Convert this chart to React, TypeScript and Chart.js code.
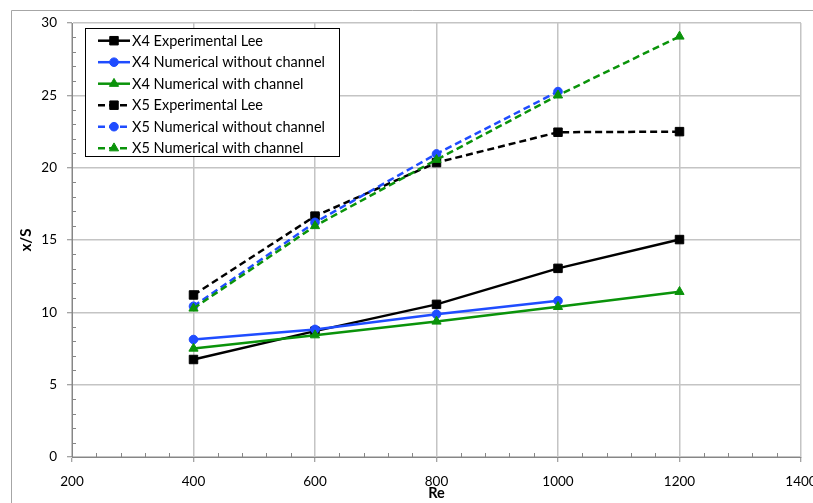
import React, { useEffect, useRef } from 'react';
import { Chart, registerables } from 'chart.js';

Chart.register(...registerables);

// Reynolds numbers (x axis)
const reValues = [400, 600, 800, 1000, 1200];

// Series values x/S
const x4ExperimentalLee = [6.74, 8.7, 10.55, 13.04, 15.03];
const x4NumericalWithout = [8.12, 8.82, 9.87, 10.8];
const x4NumericalWith = [7.5, 8.42, 9.37, 10.38, 11.42];
const x5ExperimentalLee = [11.2, 16.65, 20.35, 22.45, 22.49];
const x5NumericalWithout = [10.42, 16.22, 20.95, 25.26];
const x5NumericalWith = [10.27, 15.97, 20.55, 25.0, 29.07];

const seriesLabels = [
  'X4 Experimental Lee',
  'X4 Numerical without channel',
  'X4 Numerical with channel',
  'X5 Experimental Lee',
  'X5 Numerical without channel',
  'X5 Numerical with channel',
];

const xTickValues = [200, 400, 600, 800, 1000, 1200, 1400];
const yTickValues = [0, 5, 10, 15, 20, 25, 30];

const FONT = 'Lato, "Open Sans", sans-serif';
const BLACK = '#000000';
const BLUE = '#1f4cff';
const GREEN = '#0a930a';

function drawMarker(ctx: CanvasRenderingContext2D, style: string, x: number, y: number, r: number, color: string) {
  ctx.save();
  ctx.fillStyle = color;
  ctx.strokeStyle = color;
  ctx.lineWidth = 1;
  ctx.setLineDash([]);
  ctx.beginPath();
  if (style === 'rect') {
    const s = Math.SQRT1_2 * r;
    ctx.rect(x - s, y - s, 2 * s, 2 * s);
  } else if (style === 'circle') {
    ctx.arc(x, y, r, 0, Math.PI * 2);
  } else {
    ctx.moveTo(x, y - r);
    ctx.lineTo(x + Math.sin((2 * Math.PI) / 3) * r, y - Math.cos((2 * Math.PI) / 3) * r);
    ctx.lineTo(x + Math.sin((4 * Math.PI) / 3) * r, y - Math.cos((4 * Math.PI) / 3) * r);
    ctx.closePath();
  }
  ctx.fill();
  ctx.stroke();
  ctx.restore();
}

export default function App() {
  const ref = useRef<HTMLCanvasElement>(null);

  useEffect(() => {
    if (!ref.current) return;

    const mk = (label: string, ys: number[], color: string, style: string, radius: number, dashed: boolean, order: number) => ({
      label,
      data: ys.map((y, i) => ({ x: reValues[i], y })),
      borderColor: color,
      backgroundColor: color,
      borderWidth: 2.5,
      borderDash: dashed ? [7, 4] : [],
      pointStyle: style,
      pointRadius: radius,
      pointBorderWidth: 1,
      pointBackgroundColor: color,
      pointBorderColor: color,
      tension: 0,
      fill: false,
      order,
    });

    const datasets = [
      mk(seriesLabels[0], x4ExperimentalLee, BLACK, 'rect', 6, false, 6),
      mk(seriesLabels[1], x4NumericalWithout, BLUE, 'circle', 4.3, false, 5),
      mk(seriesLabels[2], x4NumericalWith, GREEN, 'triangle', 5.3, false, 4),
      mk(seriesLabels[3], x5ExperimentalLee, BLACK, 'rect', 6, true, 3),
      mk(seriesLabels[4], x5NumericalWithout, BLUE, 'circle', 4.3, true, 2),
      mk(seriesLabels[5], x5NumericalWith, GREEN, 'triangle', 5.3, true, 1),
    ];

    const framePlugin = {
      id: 'frame',
      beforeDraw(chart: any) {
        const ctx = chart.ctx;
        ctx.save();
        ctx.fillStyle = '#ffffff';
        ctx.fillRect(0, 0, chart.width, chart.height);
        ctx.strokeStyle = '#a6a6a6';
        ctx.lineWidth = 1;
        ctx.beginPath();
        ctx.moveTo(11.5, chart.height + 5);
        ctx.lineTo(11.5, 10.5);
        ctx.lineTo(chart.width + 5, 10.5);
        ctx.stroke();
        ctx.restore();
      },
      afterDraw(chart: any) {
        const ctx = chart.ctx;
        const xs = chart.scales.x;
        const ys = chart.scales.y;
        const area = chart.chartArea;
        ctx.save();
        ctx.strokeStyle = '#868686';
        ctx.lineWidth = 1;
        ctx.beginPath();
        for (let v = 240; v < 1400; v += 40) {
          if (v % 200 === 0) continue;
          const px = Math.round(xs.getPixelForValue(v)) + 0.5;
          ctx.moveTo(px, area.bottom);
          ctx.lineTo(px, area.bottom - 4);
        }
        for (let v = 1; v < 30; v += 1) {
          if (v % 5 === 0) continue;
          const py = Math.round(ys.getPixelForValue(v)) + 0.5;
          ctx.moveTo(area.left, py);
          ctx.lineTo(area.left + 4, py);
        }
        ctx.stroke();
        ctx.restore();
      },
      afterDatasetsDraw(chart: any) {
        const ctx = chart.ctx;
        const x0 = 85.5, y0 = 28.5, w = 254, h = 128;
        ctx.save();
        ctx.fillStyle = '#ffffff';
        ctx.fillRect(x0, y0, w, h);
        ctx.strokeStyle = '#000000';
        ctx.lineWidth = 1;
        ctx.strokeRect(x0, y0, w, h);
        chart.data.datasets.forEach((ds: any, i: number) => {
          const cy = 40.7 + i * 21.5;
          ctx.strokeStyle = ds.borderColor;
          ctx.lineWidth = 2.5;
          ctx.setLineDash(ds.borderDash || []);
          ctx.beginPath();
          ctx.moveTo(98, cy);
          ctx.lineTo(130, cy);
          ctx.stroke();
          ctx.setLineDash([]);
          drawMarker(ctx, ds.pointStyle, 114, cy, ds.pointRadius, ds.borderColor);
          ctx.fillStyle = '#000000';
          ctx.font = `14.5px ${FONT}`;
          ctx.textBaseline = 'middle';
          ctx.textAlign = 'left';
          ctx.fillText(ds.label, 132, cy + 0.5);
        });
        ctx.restore();
      },
    };

    const chart = new Chart(ref.current, {
      type: 'line',
      data: { datasets: datasets as any },
      options: {
        animation: false,
        responsive: false,
        maintainAspectRatio: false,
        layout: { padding: { left: 0, right: 12, top: 23, bottom: 0 } },
        plugins: { legend: { display: false }, tooltip: { enabled: false } },
        scales: {
          x: {
            type: 'linear',
            min: 200,
            max: 1400,
            afterBuildTicks: (s: any) => {
              s.ticks = xTickValues.map((v) => ({ value: v }));
            },
            afterFit: (s: any) => {
              s.height = 46;
              s.paddingLeft = 0;
              s.paddingRight = 0;
            },
            grid: { color: '#c4c4c4', lineWidth: 1.5, tickColor: '#868686', tickLength: 5, tickWidth: 1 },
            border: { color: '#868686', width: 1 },
            ticks: {
              color: '#000000',
              font: { family: FONT, size: 13.5 },
              padding: 12,
              maxRotation: 0,
              autoSkip: false,
              callback: (v: any) => String(v),
            },
            title: { display: true, text: 'Re', color: '#000000', font: { family: FONT, size: 14.5, weight: 'bold' }, padding: { top: 0, bottom: 1 } },
          },
          y: {
            type: 'linear',
            min: 0,
            max: 30,
            afterBuildTicks: (s: any) => {
              s.ticks = yTickValues.map((v) => ({ value: v }));
            },
            afterFit: (s: any) => {
              s.width = 72;
              s.paddingTop = 0;
              s.paddingBottom = 0;
            },
            grid: { color: '#c4c4c4', lineWidth: 1.5, tickColor: '#868686', tickLength: 5, tickWidth: 1 },
            border: { color: '#868686', width: 1 },
            ticks: { color: '#000000', font: { family: FONT, size: 13.5 }, padding: 10, callback: (v: any) => String(v) },
            title: { display: true, text: 'x/S', color: '#000000', font: { family: FONT, size: 15, weight: 'bold' }, padding: { top: 17, bottom: 0 } },
          },
        },
      },
      plugins: [framePlugin],
    });

    return () => chart.destroy();
  }, []);

  return (
    <div style={{ position: 'fixed', left: 0, top: 0, width: 813, height: 503 }}>
      <canvas ref={ref} width={813} height={503} style={{ width: 813, height: 503, display: 'block' }} />
    </div>
  );
}
